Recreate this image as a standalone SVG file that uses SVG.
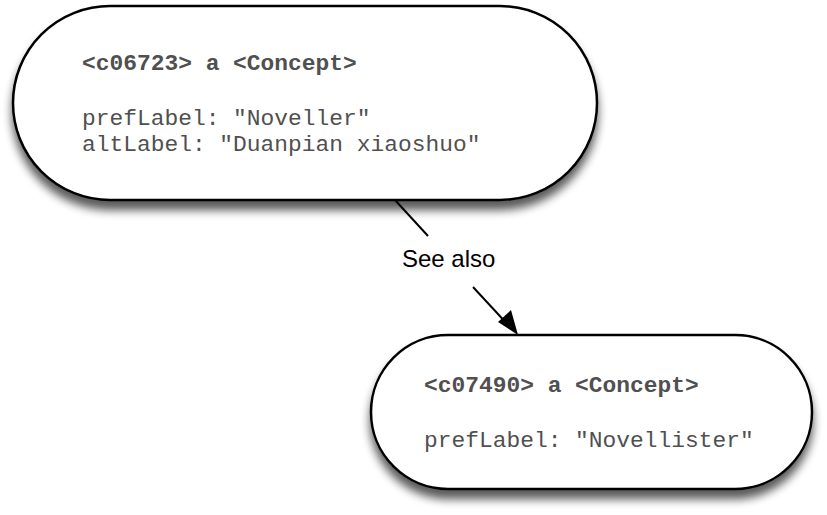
<svg xmlns="http://www.w3.org/2000/svg" width="827" height="515" viewBox="0 0 827 515">
<style>
.node{fill:#fff;stroke:#000;stroke-width:2.5;filter:url(#sh)}
.t{font-family:"Liberation Mono","Courier New",monospace;font-size:22.9px;fill:#505050}
.b{font-weight:bold}
.lbl{font-family:"Liberation Sans",Arial,sans-serif;font-size:24px;fill:#000}
.edge{stroke:#000;stroke-width:2;fill:none}
</style>
<defs>
<filter id="sh" x="-10%" y="-10%" width="120%" height="140%">
<feGaussianBlur in="SourceAlpha" stdDeviation="5"/>
<feOffset dx="0" dy="9" result="o"/>
<feComponentTransfer><feFuncA type="linear" slope="0.65"/></feComponentTransfer>
<feMerge><feMergeNode/><feMergeNode in="SourceGraphic"/></feMerge>
</filter>
</defs>
<g id="connectors">
<line class="edge" x1="395" y1="200" x2="428" y2="236"/>
<line class="edge" x1="473" y1="287" x2="510" y2="327"/>
<path d="M518,335 L498,322 L511,310 Z" fill="#000"/>
<text class="lbl" x="402" y="267">See also</text>
</g>
<g id="node1">
<rect class="node" x="13" y="6" width="584" height="194" rx="97" ry="97"/>
<text class="t b" x="82" y="70">&lt;c06723&gt; a &lt;Concept&gt;</text>
<text class="t" x="82" y="125">prefLabel: "Noveller"</text>
<text class="t" x="82" y="151">altLabel: "Duanpian xiaoshuo"</text>
</g>
<g id="node2">
<rect class="node" x="371" y="335" width="441" height="154" rx="77" ry="77"/>
<text class="t b" x="424" y="392">&lt;c07490&gt; a &lt;Concept&gt;</text>
<text class="t" x="424" y="447">prefLabel: "Novellister"</text>
</g>
</svg>
